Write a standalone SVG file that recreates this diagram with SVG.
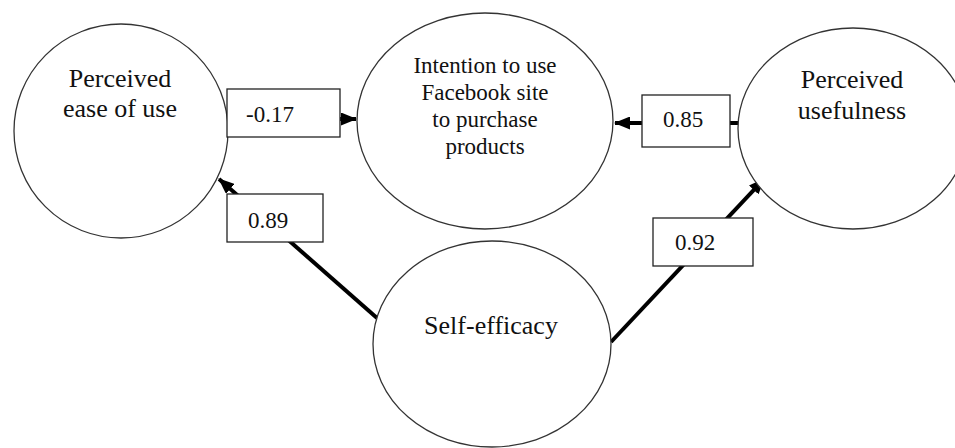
<svg xmlns="http://www.w3.org/2000/svg" width="955" height="448" viewBox="0 0 955 448">
<style>
.node{fill:#fff;stroke:#333;stroke-width:1.3}
.nt{font-family:"Liberation Serif","Times New Roman",serif;font-size:26px;fill:#111;text-anchor:middle}
.ct{font-family:"Liberation Serif","Times New Roman",serif;font-size:23px;fill:#111;text-anchor:middle}
.lbl{fill:#fff;stroke:#222;stroke-width:1.3}
.lt{font-family:"Liberation Serif","Times New Roman",serif;font-size:23px;fill:#111}
.edge{stroke:#000;stroke-width:4;fill:none;marker-end:url(#ah)}
</style>
<defs>
<marker id="ah" markerUnits="userSpaceOnUse" markerWidth="16" markerHeight="13" refX="15" refY="6.5" orient="auto">
<path d="M0,0 L16,6.5 L0,13 Z" fill="#000"/>
</marker>
</defs>
<rect width="955" height="448" fill="#fff"/>
<g id="connectors">
<line class="edge" x1="229" y1="119" x2="356" y2="119"/>
<line class="edge" x1="738" y1="123" x2="615" y2="123"/>
<line class="edge" x1="377" y1="318" x2="219" y2="179"/>
<line class="edge" x1="611" y1="342" x2="764" y2="179"/>
</g>
<g id="peou">
<ellipse class="node" cx="121" cy="131" rx="107" ry="107"/>
<text class="nt" x="120" y="87">Perceived</text>
<text class="nt" x="120" y="117">ease of use</text>
</g>
<g id="intention">
<ellipse class="node" cx="485" cy="121" rx="128" ry="108"/>
<text class="ct" x="485" y="73">Intention to use</text>
<text class="ct" x="485" y="100">Facebook site</text>
<text class="ct" x="485" y="127">to purchase</text>
<text class="ct" x="485" y="154">products</text>
</g>
<g id="pu">
<ellipse class="node" cx="853" cy="128.5" rx="115" ry="100.5"/>
<text class="nt" x="852" y="88">Perceived</text>
<text class="nt" x="852" y="119">usefulness</text>
</g>
<g id="selfefficacy">
<ellipse class="node" cx="492" cy="344" rx="119" ry="103"/>
<text class="nt" x="491" y="334">Self-efficacy</text>
</g>
<g id="label-017">
<rect class="lbl" x="227" y="89" width="113" height="48"/>
<text class="lt" x="246" y="122">-0.17</text>
</g>
<g id="label-085">
<rect class="lbl" x="642" y="95" width="88" height="52"/>
<text class="lt" x="663" y="127">0.85</text>
</g>
<g id="label-089">
<rect class="lbl" x="227" y="194" width="96" height="48"/>
<text class="lt" x="248" y="228">0.89</text>
</g>
<g id="label-092">
<rect class="lbl" x="653" y="218" width="100" height="48"/>
<text class="lt" x="675" y="250">0.92</text>
</g>
</svg>
